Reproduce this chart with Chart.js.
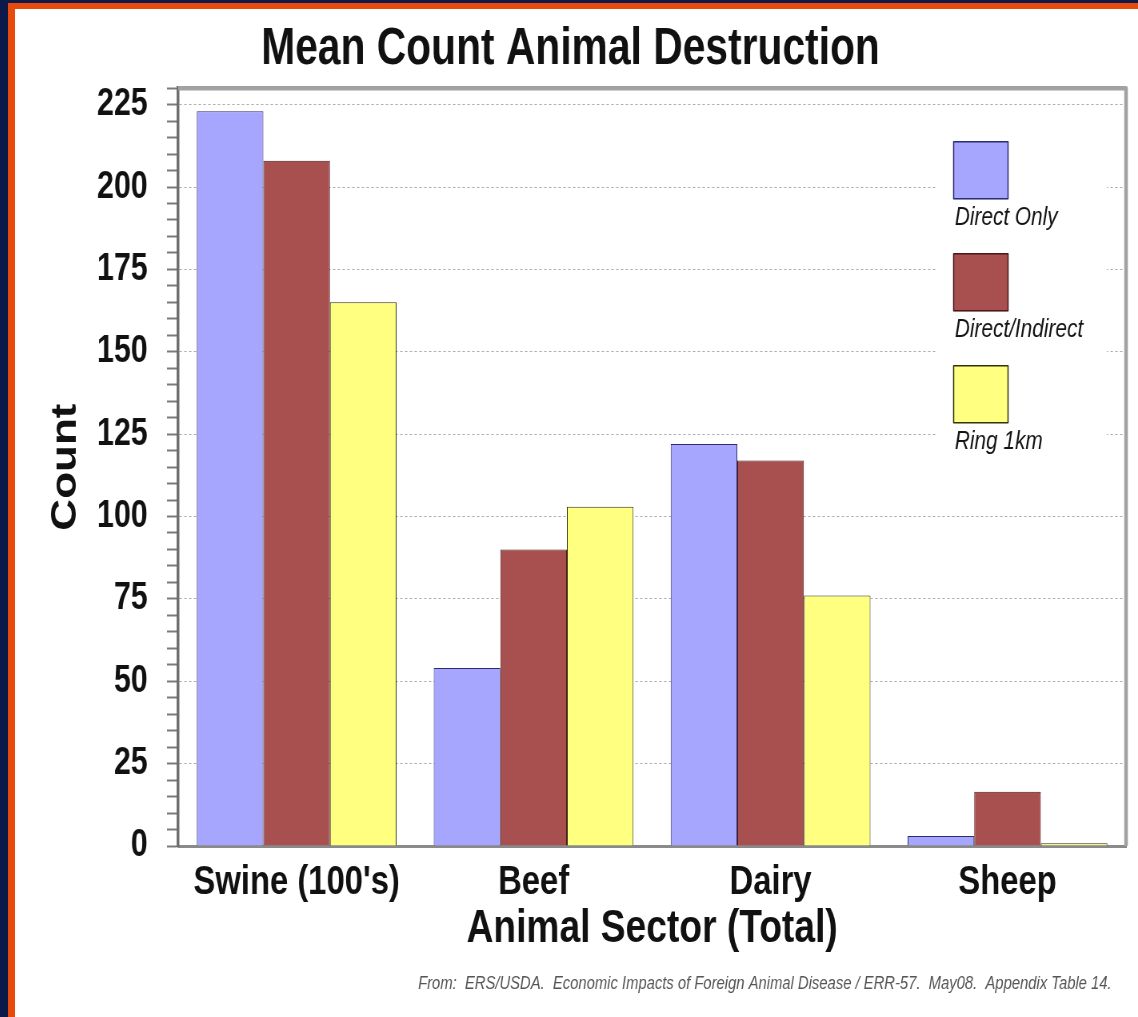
<!DOCTYPE html>
<html>
<head>
<meta charset="utf-8">
<script src="https://cdn.jsdelivr.net/npm/chart.js@4.4.1/dist/chart.umd.min.js"></script>
<style>
  html, body { margin: 0; padding: 0; width: 1138px; height: 1017px; overflow: hidden; background: #0b1a48; }
  #edge { position: absolute; left: 8px; top: 3px; width: 1130px; height: 1014px; background: #e84a0c; }
  #sheet { position: absolute; left: 15px; top: 9px; width: 1123px; height: 1008px; background: #ffffff; overflow: hidden; }
  /* the chart is laid out wide and condensed horizontally, like narrow type */
  #squeeze { width: 1404px; height: 1008px; transform: scaleX(0.79986); transform-origin: 0 0; }
  canvas { display: block; }
</style>
</head>
<body>
<div id="edge"></div>
<div id="sheet"><div id="squeeze"><canvas id="chart" width="1404" height="1008"></canvas></div></div>
<script>
// Mean count of animals destroyed, by sector and control strategy
const sectors = ["Swine (100's)", "Beef", "Dairy", "Sheep"];
const seriesNames = ["Direct Only", "Direct/Indirect", "Ring 1km"];
const directOnly = [223, 54, 122, 3];
const directIndirect = [208, 90, 117, 16.5];
const ring1km = [165, 103, 76, 0.8];
const yMax = 230;
const yMinorStep = 5;
const yMajorStep = 25;
const footnote = "From:  ERS/USDA.  Economic Impacts of Foreign Animal Disease / ERR-57.  May08.  Appendix Table 14.";

const FONT = "'Liberation Sans', Arial, sans-serif";

const fills = ['#a6a6ff', '#a84f4f', '#ffff80'];
const edges = ['#2c2c70', '#4a1818', '#33330c'];

// Plot frame, in-plot legend and source note
const sheetDecor = {
  id: 'sheetDecor',
  beforeDatasetsDraw(chart) {
    const { ctx, chartArea: a } = chart;
    ctx.save();
    ctx.fillStyle = '#ffffff';
    ctx.fillRect(a.right - 236, a.top + 40, 212, 330);
    ctx.restore();
  },
  afterDraw(chart) {
    const { ctx, chartArea: a } = chart;
    ctx.save();
    ctx.strokeStyle = '#a2a2a2';
    ctx.lineWidth = 4.5;
    ctx.lineJoin = 'round';
    ctx.beginPath();
    ctx.moveTo(a.left, a.top);
    ctx.lineTo(a.right, a.top);
    ctx.lineTo(a.right, a.bottom);
    ctx.stroke();

    chart.data.datasets.forEach((ds, i) => {
      const x = a.right - 216;
      const y = a.top + 53 + i * 112;
      ctx.fillStyle = ds.backgroundColor;
      ctx.fillRect(x, y, 69, 58);
      ctx.strokeStyle = ds.borderColor;
      ctx.lineWidth = 1.5;
      ctx.strokeRect(x + 0.5, y + 0.5, 68, 57);
      ctx.fillStyle = '#141414';
      ctx.font = 'italic 26px ' + FONT;
      ctx.textAlign = 'left';
      ctx.textBaseline = 'alphabetic';
      ctx.fillText(ds.label, x + 2, y + 84);
    });

    ctx.fillStyle = '#555555';
    ctx.font = 'italic 18.5px ' + FONT;
    ctx.textAlign = 'right';
    ctx.textBaseline = 'alphabetic';
    ctx.fillText(footnote, a.right - 18, 980);
    ctx.restore();
  }
};

const seriesValues = [directOnly, directIndirect, ring1km];

new Chart(document.getElementById('chart'), {
  type: 'bar',
  data: {
    labels: sectors,
    datasets: seriesNames.map((name, i) => ({
      label: name,
      data: seriesValues[i],
      backgroundColor: fills[i],
      borderColor: edges[i],
      borderWidth: 1,
      categoryPercentage: 0.843,
      barPercentage: 1.0
    }))
  },
  options: {
    responsive: false,
    animation: false,
    devicePixelRatio: 1,
    layout: { padding: { left: 0, right: 15, top: 0, bottom: 60 } },
    plugins: {
      legend: { display: false },
      tooltip: { enabled: false },
      title: {
        display: true,
        text: 'Mean Count Animal Destruction',
        color: '#111111',
        font: { family: FONT, size: 51, weight: 'bold' },
        padding: { top: 10, bottom: 8 }
      }
    },
    scales: {
      x: {
        afterFit(s) { s.height = 111; },
        grid: { display: false, drawTicks: false },
        border: { display: true, color: '#8a8a8a', width: 3 },
        ticks: {
          padding: 12,
          maxRotation: 0,
          minRotation: 0,
          autoSkip: false,
          color: '#111111',
          font: { family: FONT, size: 41, weight: 'bold' }
        },
        title: {
          display: true,
          text: 'Animal Sector (Total)',
          color: '#111111',
          padding: { top: 0, bottom: 0 },
          font: { family: FONT, size: 46.5, weight: 'bold' }
        }
      },
      y: {
        min: 0,
        max: yMax,
        afterFit(s) { s.width = 204; },
        ticks: {
          stepSize: yMinorStep,
          autoSkip: false,
          padding: 24,
          color: '#111111',
          font: { family: FONT, size: 38, weight: 'bold' },
          callback: v => (v % yMajorStep === 0 && v <= 225) ? String(v) : ''
        },
        grid: {
          color: c => {
            const v = c.tick ? c.tick.value : -1;
            return (v % yMajorStep === 0 && v > 0 && v < yMax) ? '#ababab' : 'rgba(0,0,0,0)';
          },
          lineWidth: 1,
          tickColor: '#7a7a7a',
          tickLength: 14,
          tickWidth: 2
        },
        border: { display: true, color: '#6e6e6e', width: 3.5, dash: [3, 3] },
        title: {
          display: true,
          text: 'Count',
          color: '#111111',
          padding: { top: 37, bottom: 0 },
          font: { family: FONT, size: 44, weight: 'bold' }
        }
      }
    }
  },
  plugins: [sheetDecor]
});
</script>
</body>
</html>
